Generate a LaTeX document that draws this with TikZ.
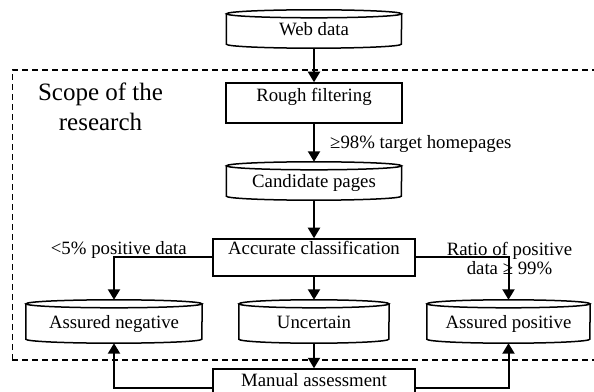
\documentclass[tikz,border=0pt]{standalone}
\usepackage{fontspec}
\setmainfont{Liberation Serif}
\usetikzlibrary{arrows.meta,calc}
\tikzset{
  lbl/.style={font=\fontsize{18.8}{19}\selectfont, inner sep=0pt},
  rectbox/.style={draw, line width=1.5pt, inner sep=0pt, font=\fontsize{18.8}{19}\selectfont},
  cylbox/.style={inner sep=0pt, text height=13.5pt, text depth=0.5pt, font=\fontsize{18.8}{19}\selectfont},
  arr/.style={line width=2pt, -{Triangle[width=12pt,length=10.5pt]}},
  cylline/.style={line width=1.5pt},
  scopebox/.style={line width=1.1pt, dash pattern=on 6pt off 4pt},
}
\newcommand\cylshape[2]{%
  \draw[cylline] ($(#1.north west)+(0,-4pt)$) -- ($(#1.south west)+(0,4pt)$)
    arc[start angle=180, end angle=360, x radius=#2pt, y radius=4pt]
    -- ($(#1.north east)+(0,-4pt)$);
  \draw[cylline] ($(#1.north)+(0,-4pt)$) ellipse[x radius=#2pt, y radius=4pt];
}
\begin{document}
\begin{tikzpicture}[x=1pt,y=1pt]
\useasboundingbox (0,0) rectangle (594,391);
% scope of research
\draw[scopebox] (12.3,31) rectangle (600,321);
\node[font=\fontsize{25}{30}\selectfont, align=center, inner sep=0pt] (scope) at (100.5,284.5) {Scope of the\\research};

% nodes
\node[cylbox, minimum width=175pt, minimum height=38pt] (web) at (314,362) {Web data};
\node[rectbox, minimum width=176pt, text height=18.7pt, text depth=21.3pt] (rough) at (314,288) {Rough filtering};
\node[cylbox, minimum width=175pt, minimum height=38pt] (cand) at (314,210) {Candidate pages};
\node[rectbox, minimum width=202pt, text height=16pt, text depth=21pt] (acc) at (314,133.5) {Accurate classification};
\node[cylbox, minimum width=176pt, minimum height=43pt] (neg) at (114,69.5) {Assured negative};
\node[cylbox, minimum width=150pt, minimum height=43pt] (unc) at (314,69.5) {Uncertain};
\node[cylbox, minimum width=163pt, minimum height=43pt] (pos) at (508.5,69.5) {Assured positive};
\node[rectbox, minimum width=202pt, text height=17.7pt, text depth=19.3pt] (man) at (314,3.5) {Manual assessment};

\cylshape{web}{87.5}
\cylshape{cand}{87.5}
\cylshape{neg}{88}
\cylshape{unc}{75}
\cylshape{pos}{81.5}

% labels
\node[lbl, anchor=base west] (l98) at (330,242.5) {≥98\% target homepages};
\node[lbl, anchor=base east] (l5) at (187,136) {<5\% positive data};
\node[lbl, align=center] (lr) at (509.5,132) {Ratio of positive\\data ≥ 99\%};

% connectors
\draw[arr] (web) -- (rough);
\draw[arr] (rough) -- (cand);
\draw[arr] (cand) -- (acc);
\draw[arr] (acc) -- (unc);
\draw[arr] (unc) -- (man);
\draw[arr] (acc.west) -| (neg.north);
\draw[arr] (acc.east) -| (pos.north);
\draw[arr] (man.west) -| (neg.south);
\draw[arr] (man.east) -| (pos.south);
\end{tikzpicture}
\end{document}
